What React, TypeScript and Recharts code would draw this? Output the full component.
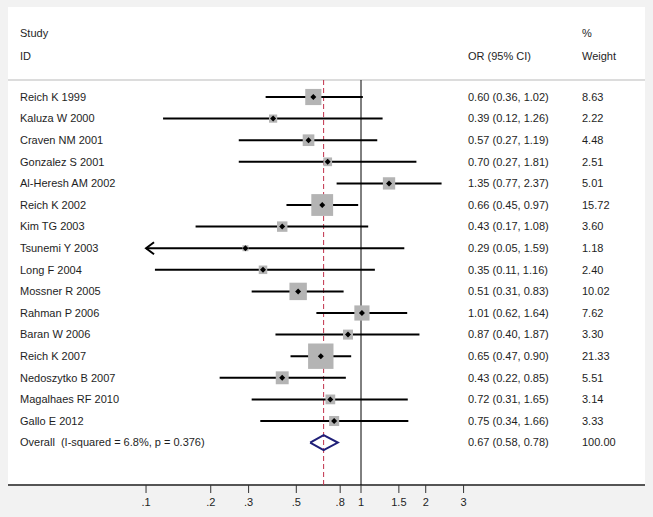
import { CartesianGrid, Scatter, ScatterChart, XAxis, YAxis } from 'recharts'

const studies = [
  'Reich K 1999',
  'Kaluza W 2000',
  'Craven NM 2001',
  'Gonzalez S 2001',
  'Al-Heresh AM 2002',
  'Reich K 2002',
  'Kim TG 2003',
  'Tsunemi Y 2003',
  'Long F 2004',
  'Mossner R 2005',
  'Rahman P 2006',
  'Baran W 2006',
  'Reich K 2007',
  'Nedoszytko B 2007',
  'Magalhaes RF 2010',
  'Gallo E 2012',
]
const orValues = [0.6, 0.39, 0.57, 0.7, 1.35, 0.66, 0.43, 0.29, 0.35, 0.51, 1.01, 0.87, 0.65, 0.43, 0.72, 0.75]
const ciLow = [0.36, 0.12, 0.27, 0.27, 0.77, 0.45, 0.17, 0.05, 0.11, 0.31, 0.62, 0.4, 0.47, 0.22, 0.31, 0.34]
const ciHigh = [1.02, 1.26, 1.19, 1.81, 2.37, 0.97, 1.08, 1.59, 1.16, 0.83, 1.64, 1.87, 0.9, 0.85, 1.65, 1.66]
const weights = [8.63, 2.22, 4.48, 2.51, 5.01, 15.72, 3.6, 1.18, 2.4, 10.02, 7.62, 3.3, 21.33, 5.51, 3.14, 3.33]

const overallLabel = 'Overall\u00a0\u00a0(I-squared = 6.8%, p = 0.376)'
const overallOr = 0.67
const overallLow = 0.58
const overallHigh = 0.78
const overallWeight = 100.0

const xTicks = [0.1, 0.2, 0.3, 0.5, 0.8, 1, 1.5, 2, 3]
const xTickLabels = ['.1', '.2', '.3', '.5', '.8', '1', '1.5', '2', '3']

// plot region in row units / log x
const X_MIN = 0.0228
const X_MAX = 20.94
const CLIP_LOW = 0.1
const Y_TOP = -4.167
const Y_BOTTOM = 17.963
const HEADER_STUDY = -2.963
const HEADER_ID = -1.898
const SEPARATOR = -0.787
const OVERALL_ROW = studies.length

const fmt = (v: number) => v.toFixed(2)

const FONT = '"Liberation Sans", Arial, sans-serif'
const TEXT = '#1e1e1e'

// one text row per table line: [study, OR (CI), weight]
const tableRows = [
  { y: HEADER_STUDY, study: 'Study', ci: '', weight: '%' },
  { y: HEADER_ID, study: 'ID', ci: 'OR (95% CI)', weight: 'Weight' },
  ...studies.map((s, i) => ({
    y: i,
    study: s,
    ci: `${fmt(orValues[i])} (${fmt(ciLow[i])}, ${fmt(ciHigh[i])})`,
    weight: weights[i].toFixed(2),
  })),
  {
    y: OVERALL_ROW,
    study: overallLabel,
    ci: `${fmt(overallOr)} (${fmt(overallLow)}, ${fmt(overallHigh)})`,
    weight: overallWeight.toFixed(2),
  },
].map((r) => ({ ...r, x: 1 }))

const squares = studies.map((_, i) => ({ x: orValues[i], y: i, w: weights[i] }))
const ciSegments = studies.map((_, i) => [
  { x: Math.max(ciLow[i], CLIP_LOW), y: i },
  { x: ciHigh[i], y: i },
])
const arrows = studies.map((_, i) => ({ x: CLIP_LOW, y: i })).filter((_, i) => ciLow[i] < CLIP_LOW)

const separatorLine = [
  { x: X_MIN, y: SEPARATOR },
  { x: X_MAX, y: SEPARATOR },
]
const nullLine = [
  { x: 1, y: SEPARATOR },
  { x: 1, y: Y_BOTTOM },
]
const overallLine = [
  { x: overallOr, y: SEPARATOR },
  { x: overallOr, y: Y_BOTTOM },
]

const dh = 0.347
const diamond = [
  { x: overallLow, y: OVERALL_ROW },
  { x: overallOr, y: OVERALL_ROW - dh },
  { x: overallHigh, y: OVERALL_ROW },
  { x: overallOr, y: OVERALL_ROW + dh },
  { x: overallLow, y: OVERALL_ROW },
]

function RowText({ cy, payload }: any) {
  const t = (x: number, s: string) =>
    s ? (
      <text x={x} y={cy} dy="0.35em" fontSize={11} fontFamily={FONT} fill={TEXT}>
        {s}
      </text>
    ) : null
  return (
    <g>
      {t(20, payload.study)}
      {t(468, payload.ci)}
      {t(582, payload.weight)}
    </g>
  )
}

function Box({ cx, cy, payload }: any) {
  const s = 5.5 * Math.sqrt(payload.w)
  return (
    <g>
      <rect x={cx - s / 2} y={cy - s / 2} width={s} height={s} fill="#b4b4b4" />
      <path d={`M${cx - 3},${cy} L${cx},${cy - 3} L${cx + 3},${cy} L${cx},${cy + 3} Z`} fill="#000" />
    </g>
  )
}

function Arrow({ cx, cy }: any) {
  return (
    <path d={`M${cx + 8},${cy - 6} L${cx},${cy} L${cx + 8},${cy + 6}`} fill="none" stroke="#000" strokeWidth={2} />
  )
}

const NoDot = () => <g />

export default function App() {
  return (
    <div style={{ position: 'absolute', left: 0, top: 0, width: 653, height: 517, background: '#f2f2f2' }}>
      <ScatterChart width={653} height={517} margin={{ top: 7, right: 8, left: 8, bottom: 0 }}>
        <CartesianGrid fill="#fff" horizontal={false} vertical={false} />
        <XAxis
          type="number"
          dataKey="x"
          scale="log"
          domain={[X_MIN, X_MAX]}
          allowDataOverflow
          ticks={xTicks}
          tickFormatter={(v: number) => xTickLabels[xTicks.indexOf(v)] ?? String(v)}
          height={32}
          tickSize={8}
          tickMargin={5}
          axisLine={{ stroke: '#555', strokeWidth: 2 }}
          tickLine={{ stroke: '#333' }}
          tick={{ fontSize: 11, fontFamily: FONT, fill: TEXT }}
        />
        <YAxis type="number" dataKey="y" reversed domain={[Y_TOP, Y_BOTTOM]} allowDataOverflow hide />
        <Scatter data={separatorLine} line={{ stroke: '#dcdcdc', strokeWidth: 2 }} shape={NoDot} isAnimationActive={false} />
        <Scatter data={nullLine} line={{ stroke: '#000', strokeWidth: 1 }} shape={NoDot} isAnimationActive={false} />
        <Scatter
          data={overallLine}
          line={{ stroke: '#c0304a', strokeWidth: 1, strokeDasharray: '5 3' }}
          shape={NoDot}
          isAnimationActive={false}
        />
        {ciSegments.map((seg, i) => (
          <Scatter
            key={studies[i]}
            data={seg}
            line={{ stroke: '#000', strokeWidth: 2 }}
            shape={NoDot}
            isAnimationActive={false}
          />
        ))}
        <Scatter data={squares} shape={<Box />} isAnimationActive={false} />
        <Scatter data={arrows} shape={<Arrow />} isAnimationActive={false} />
        <Scatter data={diamond} line={{ stroke: '#1f1f78', strokeWidth: 2 }} lineType="joint" shape={NoDot} isAnimationActive={false} />
        <Scatter data={tableRows} shape={<RowText />} isAnimationActive={false} />
      </ScatterChart>
    </div>
  )
}
